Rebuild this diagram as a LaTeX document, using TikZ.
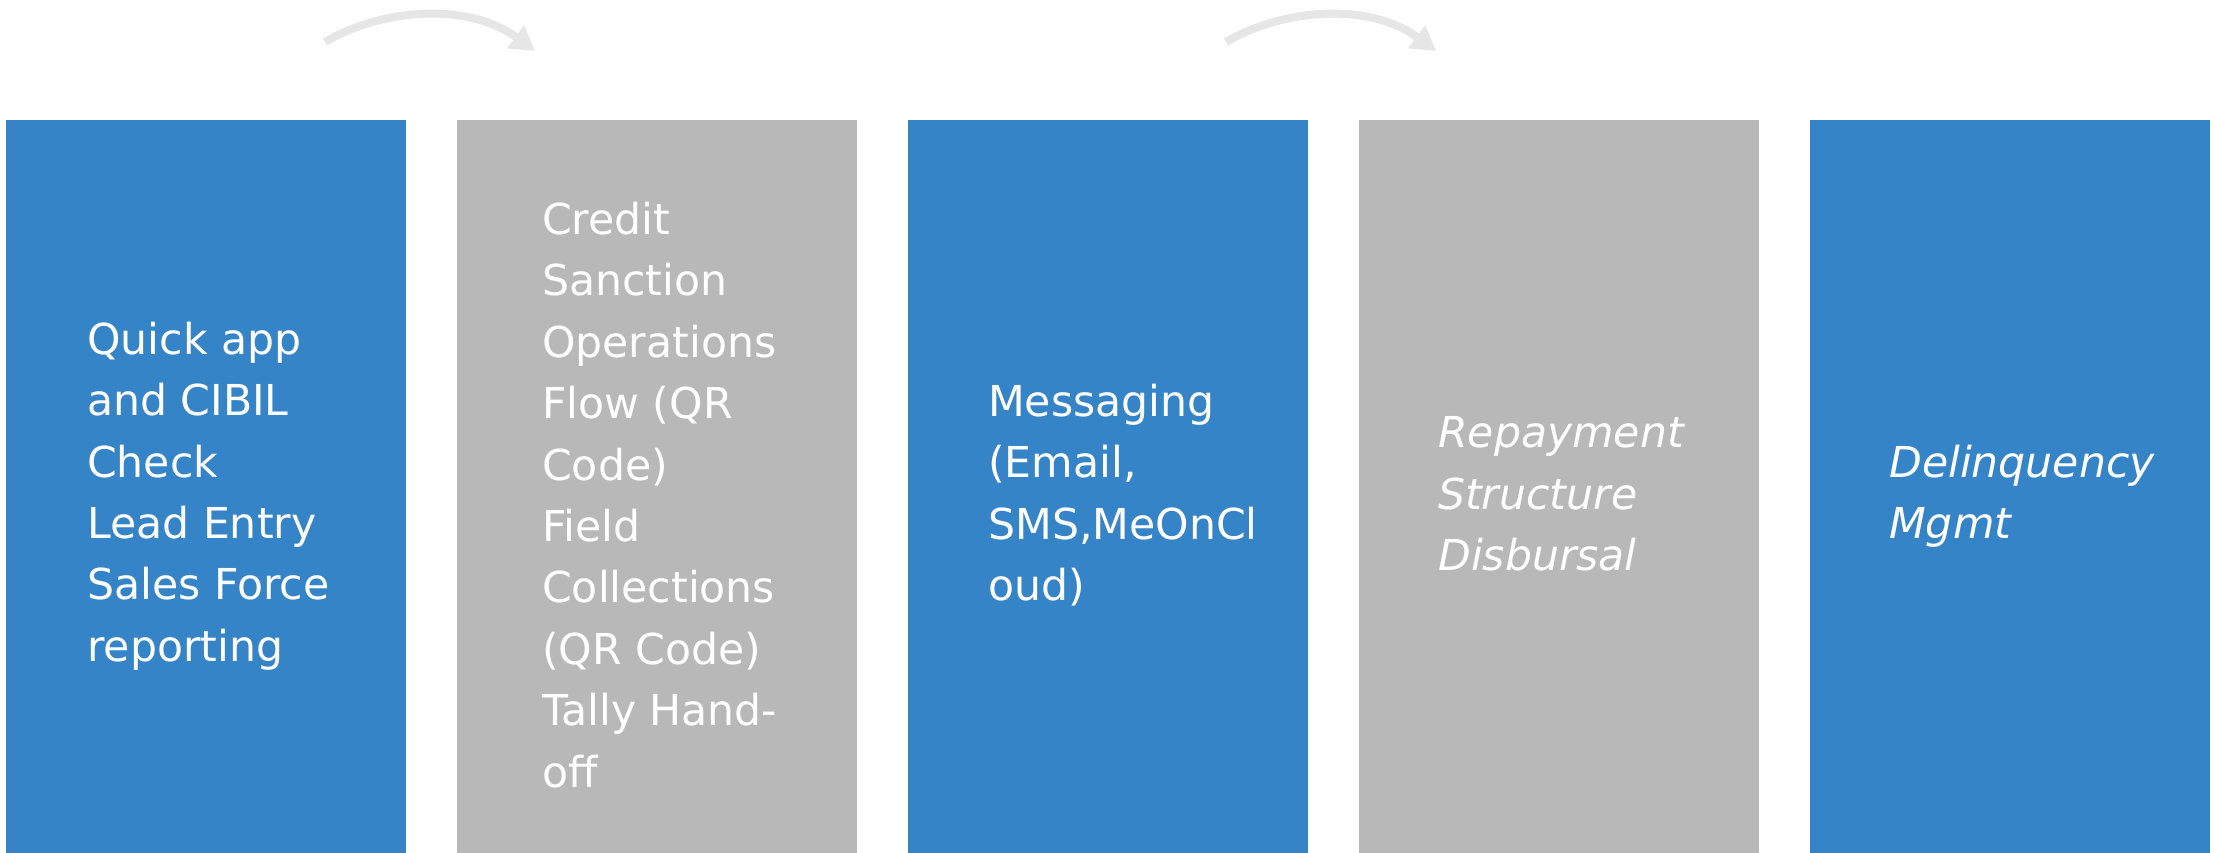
\documentclass[tikz,border=0pt]{standalone}
\usepackage{fontspec}
\setmainfont{DejaVu Sans}
\usetikzlibrary{arrows.meta}
\definecolor{boxblue}{HTML}{3584C8}
\definecolor{boxgray}{HTML}{B8B8B8}
\definecolor{arrowgray}{HTML}{E6E6E6}
\begin{document}
\begin{tikzpicture}[x=1pt,y=-1pt,
  panel/.style={inner sep=0pt, minimum width=400pt, minimum height=733pt, anchor=north west},
  bluepanel/.style={panel, fill=boxblue},
  graypanel/.style={panel, fill=boxgray},
  paneltext/.style={inner sep=0pt, anchor=west, align=left, text=white,
    font=\fontsize{42.6}{61.4}\selectfont},
  flowarrow/.style={draw=arrowgray, line width=8pt, -{Triangle[length=24pt,width=27pt]}}]
\useasboundingbox (0,0) rectangle (2215,852);
\fill[white] (0,0) rectangle (2215,852);
% panels
\node[bluepanel] (p1) at (6,119.5) {};
\node[graypanel] (p2) at (457,119.5) {};
\node[bluepanel] (p3) at (908,119.5) {};
\node[graypanel] (p4) at (1359,119.5) {};
\node[bluepanel] (p5) at (1810,119.5) {};
% texts
\node[paneltext] (t1) at (87,496) {Quick app\\and CIBIL\\Check\\Lead Entry\\Sales Force\\reporting};
\node[paneltext] (t2) at (542,495) {Credit\\Sanction\\Operations\\Flow (QR\\Code)\\Field\\Collections\\(QR Code)\\Tally Hand-\\off};
\node[paneltext] (t3) at (988,495) {Messaging\\(Email,\\SMS,MeOnCl\\oud)};
\node[paneltext, font=\fontsize{42.6}{61.4}\selectfont\itshape] (t4) at (1438,494) {Repayment\\Structure\\Disbursal};
\node[paneltext, font=\fontsize{42.6}{61.4}\selectfont\itshape] (t5) at (1889,496) {Delinquency\\Mgmt};
% arrows
\coordinate (a1s) at (325,42);
\coordinate (a1e) at (535,51);
\coordinate (a2s) at (1226,42);
\coordinate (a2e) at (1436,51);
\draw[flowarrow] (a1s) .. controls (385,7) and (470,3) .. (a1e);
\draw[flowarrow] (a2s) .. controls (1286,7) and (1371,3) .. (a2e);
\end{tikzpicture}
\end{document}
